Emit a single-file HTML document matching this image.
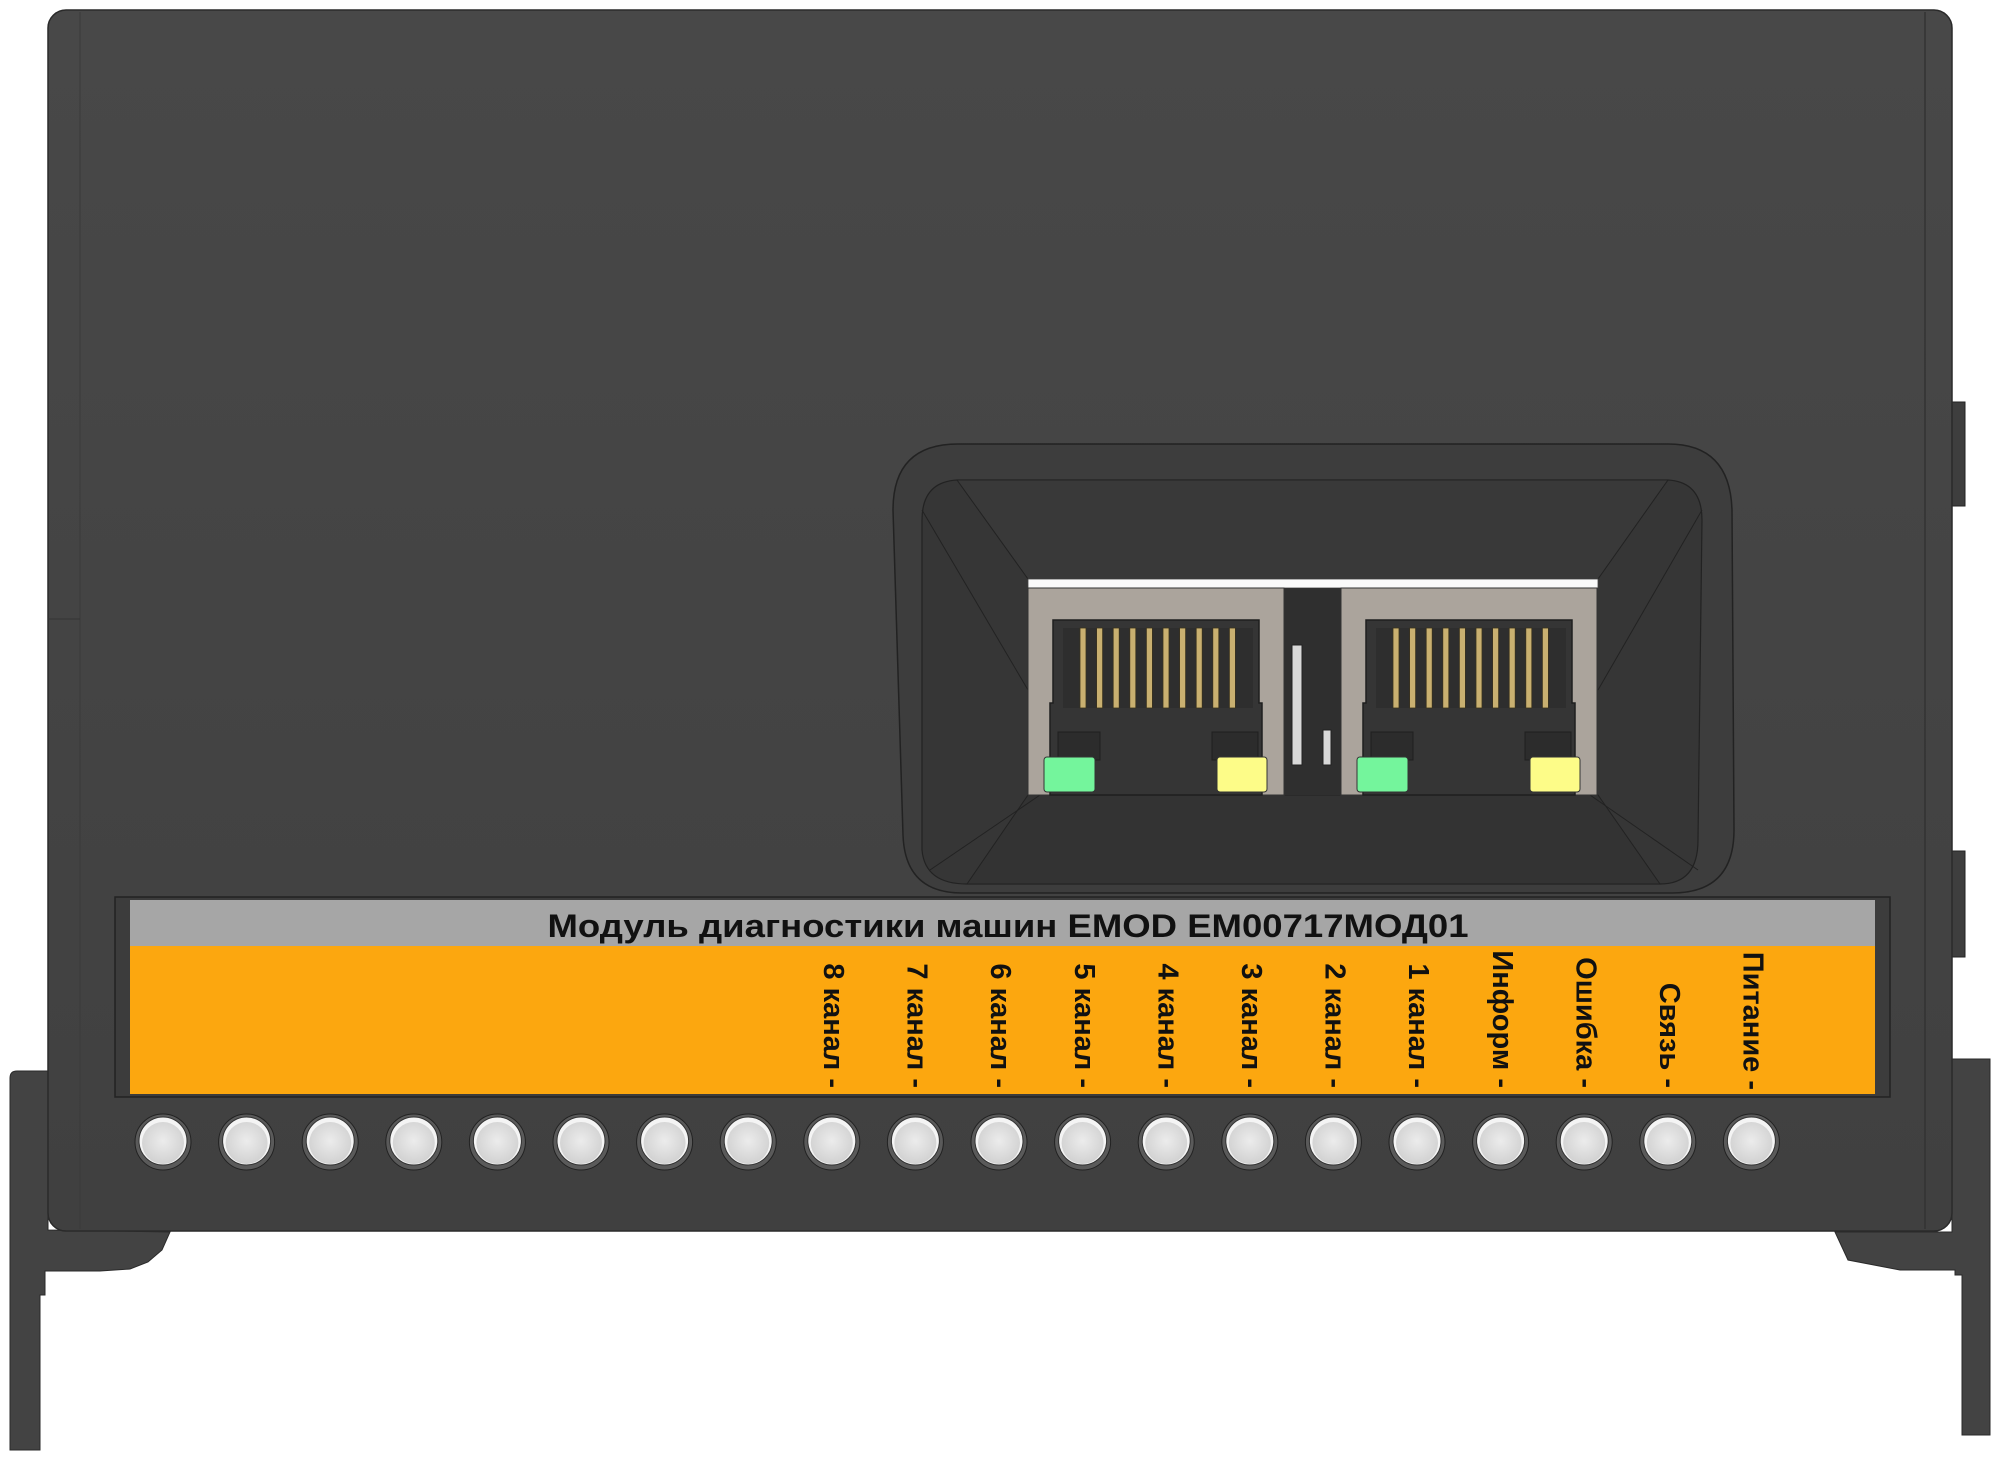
<!DOCTYPE html>
<html><head><meta charset="utf-8"><style>html,body{margin:0;padding:0;background:#fff}svg{display:block}</style></head>
<body>
<svg width="2000" height="1458" viewBox="0 0 2000 1458" xmlns="http://www.w3.org/2000/svg">
<defs>
<linearGradient id="bg" x1="0" y1="0" x2="0" y2="1"><stop offset="0" stop-color="#484848"/><stop offset="1" stop-color="#404040"/></linearGradient>
<radialGradient id="btn" cx="0.5" cy="0.45" r="0.6"><stop offset="0" stop-color="#ececec"/><stop offset="1" stop-color="#cfcfcf"/></radialGradient>
</defs>
<!-- feet -->
<path d="M10 1078 Q10 1071 17 1071 L48 1071 L48 1230 L170 1232 L162 1250 L148 1262 L130 1269 L100 1271 L45 1271 L45 1295 L40 1295 L40 1450 L10 1450 Z" fill="#434343" stroke="#2a2a2a" stroke-width="1"/>
<path d="M1952 1059 L1990 1059 L1990 1435 L1962 1435 L1962 1275 L1955 1275 L1955 1270 L1900 1270 L1848 1260 L1835 1232 L1952 1232 Z" fill="#434343" stroke="#2a2a2a" stroke-width="1"/>
<!-- side tabs -->
<rect x="1952" y="402" width="13" height="104" fill="#3e3e3e" stroke="#222"/>
<rect x="1952" y="851" width="13" height="106" fill="#3e3e3e" stroke="#222"/>
<!-- body -->
<rect x="48" y="10" width="1904" height="1221" rx="18" fill="url(#bg)" stroke="#2a2a2a" stroke-width="1.5"/>
<line x1="80" y1="12" x2="80" y2="1229" stroke="#3a3a3a" stroke-width="1"/>
<line x1="1925" y1="12" x2="1925" y2="1229" stroke="#333" stroke-width="1.5"/>
<line x1="48" y1="619" x2="80" y2="619" stroke="#333"/>
<!-- connector housing -->
<path d="M958 444 L1668 444 Q1730 444 1732 510 L1734 830 Q1734 893 1672 893 L962 893 Q905 893 903 835 L893 510 Q893 444 958 444 Z" fill="#3d3d3d" stroke="#222" stroke-width="1.5"/>
<path d="M957 480 L1668 480 Q1702 482 1702 520 L1698 840 Q1698 884 1660 884 L967 884 Q925 884 922 850 L922 520 Q922 482 957 480 Z" fill="#363636" stroke="#222" stroke-width="1.2"/>
<path d="M957 480 L1668 480 L1598 579 L1028 579 Z" fill="#393939" stroke="#222" stroke-width="1"/>
<path d="M967 884 L1660 884 L1598 795 L1028 795 Z" fill="#333" stroke="#222" stroke-width="1"/>
<line x1="922" y1="510" x2="1028" y2="690" stroke="#222"/>
<line x1="1702" y1="510" x2="1598" y2="690" stroke="#222"/>
<line x1="930" y1="870" x2="1040" y2="795" stroke="#222"/>
<line x1="1698" y1="870" x2="1590" y2="795" stroke="#222"/>
<!-- jacks -->
<rect x="1028" y="579" width="570" height="9" fill="#fafafa" stroke="#444" stroke-width="0.8"/>
<rect x="1284" y="588" width="57" height="207" fill="#2f2f2f"/>
<rect x="1292" y="645" width="10" height="120" fill="#d8d8d8" stroke="#222"/>
<rect x="1323" y="730" width="8" height="35" fill="#d8d8d8" stroke="#222"/>
<g id="jack">
<rect x="1028" y="588" width="256" height="207" fill="#aba49c" stroke="#333" stroke-width="1"/>
<path d="M1053 620 L1259 620 L1259 703 L1262 703 L1262 795 L1050 795 L1050 703 L1053 703 Z" fill="#353535" stroke="#1e1e1e" stroke-width="1.5"/>
<rect x="1063" y="628" width="190" height="80" fill="#2e2e2e"/>
<g fill="#c9b070" stroke="#3a321d" stroke-width="0.8">
<rect x="1080" y="628" width="6" height="80"/><rect x="1096.6" y="628" width="6" height="80"/><rect x="1113.2" y="628" width="6" height="80"/><rect x="1129.8" y="628" width="6" height="80"/><rect x="1146.4" y="628" width="6" height="80"/><rect x="1163" y="628" width="6" height="80"/><rect x="1179.6" y="628" width="6" height="80"/><rect x="1196.2" y="628" width="6" height="80"/><rect x="1212.8" y="628" width="6" height="80"/><rect x="1229.4" y="628" width="6" height="80"/>
</g>
<rect x="1058" y="732" width="42" height="28" fill="#2c2c2c" stroke="#1e1e1e"/>
<rect x="1212" y="732" width="46" height="28" fill="#2c2c2c" stroke="#1e1e1e"/>
<rect x="1044" y="757" width="51" height="35" rx="3" fill="#74f59c" stroke="#333"/>
<rect x="1217" y="757" width="50" height="35" rx="3" fill="#fdfc88" stroke="#333"/>
</g>
<use href="#jack" x="313"/>
<!-- label panel -->
<rect x="115" y="897" width="1775" height="200" fill="#3c3c3c" stroke="#222" stroke-width="1.5"/>
<rect x="130" y="900" width="1745" height="46" fill="#a6a6a6"/>
<rect x="130" y="946" width="1745" height="148" fill="#fca70f"/>
<text x="1008" y="937" text-anchor="middle" textLength="921" lengthAdjust="spacingAndGlyphs" font-family="Liberation Sans, sans-serif" font-weight="bold" font-size="32" fill="#111">Модуль диагностики машин EMOD EM00717МОД01</text>
<g font-family="Liberation Sans, sans-serif" font-weight="bold" font-size="29" fill="#111" text-anchor="end" dominant-baseline="central">
<text transform="translate(833,1088) rotate(90)">8 канал -</text>
<text transform="translate(916.6,1088) rotate(90)">7 канал -</text>
<text transform="translate(1000.2,1088) rotate(90)">6 канал -</text>
<text transform="translate(1083.8,1088) rotate(90)">5 канал -</text>
<text transform="translate(1167.4,1088) rotate(90)">4 канал -</text>
<text transform="translate(1251,1088) rotate(90)">3 канал -</text>
<text transform="translate(1334.6,1088) rotate(90)">2 канал -</text>
<text transform="translate(1418.2,1088) rotate(90)">1 канал -</text>
<text transform="translate(1501.8,1088) rotate(90)">Информ -</text>
<text transform="translate(1585.4,1088) rotate(90)">Ошибка -</text>
<text transform="translate(1669,1088) rotate(90)">Связь -</text>
<text transform="translate(1752.6,1090) rotate(90)">Питание -</text>
</g>
<!-- buttons -->
<g id="b"><circle cx="163" cy="1142" r="28" fill="#5a5a5a" stroke="#222" stroke-width="1"/><circle cx="163" cy="1141" r="24" fill="#f4f4f4" stroke="#333" stroke-width="1"/><circle cx="163" cy="1143" r="21" fill="url(#btn)"/></g>
<use href="#b" x="83.6"/><use href="#b" x="167.2"/><use href="#b" x="250.8"/><use href="#b" x="334.4"/><use href="#b" x="418"/><use href="#b" x="501.6"/><use href="#b" x="585.2"/><use href="#b" x="668.8"/><use href="#b" x="752.4"/><use href="#b" x="836"/><use href="#b" x="919.6"/><use href="#b" x="1003.2"/><use href="#b" x="1086.8"/><use href="#b" x="1170.4"/><use href="#b" x="1254"/><use href="#b" x="1337.6"/><use href="#b" x="1421.2"/><use href="#b" x="1504.8"/><use href="#b" x="1588.4"/>
</svg>
</body></html>
